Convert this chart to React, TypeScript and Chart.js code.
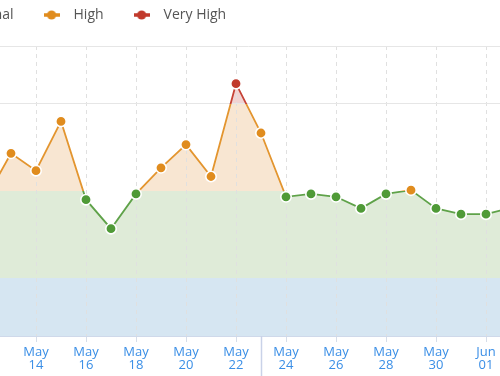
import { useEffect, useRef } from 'react';
import { Chart, registerables } from 'chart.js';

Chart.register(...registerables);

// ---- data ----
const dates = [
  'May 12', 'May 13', 'May 14', 'May 15', 'May 16', 'May 17', 'May 18', 'May 19',
  'May 20', 'May 21', 'May 22', 'May 23', 'May 24', 'May 25', 'May 26', 'May 27',
  'May 28', 'May 29', 'May 30', 'May 31', 'Jun 01', 'Jun 02',
];
const volatility = [
  4.75, 6.3, 5.7, 7.4, 4.7, 3.7, 4.9, 5.8,
  6.6, 5.5, 8.7, 7.0, 4.8, 4.9, 4.8, 4.4,
  4.9, 5.03, 4.4, 4.2, 4.2, 4.42,
];
const levelNames = ['Low', 'Normal', 'High', 'Very High'];
const levelThresholds = [0, 2, 5, 8, 10];
const markerDate = 'May 23';

// ---- styles ----
const pointColors = ['#3a8ee6', '#4f9a37', '#e08c1e', '#c13a2c'];
const lineColors = ['#3a8ee6', '#5fa249', '#e3952f', '#c64236'];
const fillColors = ['#d6e6f2', '#dfebd8', '#f8e6d2', '#f1d3d2'];
const FONT = "'Open Sans', 'Noto Sans', sans-serif";

const levelOf = (v: number) => (v >= 8 ? 3 : v >= 5 ? 2 : v >= 2 ? 1 : 0);

function makeIcon(color: string) {
  const c = document.createElement('canvas');
  c.width = 16;
  c.height = 10;
  const g = c.getContext('2d')!;
  g.strokeStyle = color;
  g.lineWidth = 3.5;
  g.beginPath();
  g.moveTo(0, 5);
  g.lineTo(16, 5);
  g.stroke();
  g.fillStyle = color;
  g.beginPath();
  g.arc(8, 5, 4.6, 0, Math.PI * 2);
  g.fill();
  return c;
}

function lineGradient(chart: any) {
  const { ctx, chartArea, scales } = chart;
  if (!chartArea || !scales || !scales.y) return lineColors[1];
  const top = chartArea.top;
  const bottom = chartArea.bottom;
  const g = ctx.createLinearGradient(0, top, 0, bottom);
  const f = (v: number) =>
    Math.min(1, Math.max(0, (scales.y.getPixelForValue(v) - top) / (bottom - top)));
  const f8 = f(8), f5 = f(5), f2 = f(2);
  g.addColorStop(0, lineColors[3]);
  g.addColorStop(f8, lineColors[3]);
  g.addColorStop(f8, lineColors[2]);
  g.addColorStop(f5, lineColors[2]);
  g.addColorStop(f5, lineColors[1]);
  g.addColorStop(f2, lineColors[1]);
  g.addColorStop(f2, lineColors[0]);
  g.addColorStop(1, lineColors[0]);
  return g;
}

const legendSpacer = {
  id: 'legendSpacer',
  beforeInit(chart: any) {
    const legend = chart.legend;
    if (!legend) return;
    const fit = legend.fit;
    legend.fit = function () {
      fit.call(legend);
      this.height += 14;
    };
  },
};

const markerLine = {
  id: 'markerLine',
  afterDraw(chart: any) {
    const { ctx, chartArea, scales } = chart;
    const idx = dates.indexOf(markerDate);
    const x = Math.round(scales.x.getPixelForValue(idx)) + 0.5;
    ctx.save();
    ctx.strokeStyle = '#c9d2e8';
    ctx.lineWidth = 1.5;
    ctx.beginPath();
    ctx.moveTo(x, chartArea.bottom);
    ctx.lineTo(x, chart.height);
    ctx.stroke();
    ctx.restore();
  },
};

const T = 'rgba(0,0,0,0)';

export default function App() {
  const ref = useRef<HTMLCanvasElement>(null);

  useEffect(() => {
    if (!ref.current) return;
    const icons = pointColors.map(makeIcon);
    const chart = new Chart(ref.current, {
      type: 'line',
      data: {
        labels: dates,
        datasets: [
          {
            label: 'Volatility',
            data: volatility,
            borderColor: (c: any) => lineGradient(c.chart),
            borderWidth: 1.8,
            tension: 0,
            pointRadius: 5.2,
            pointHoverRadius: 5.2,
            pointBackgroundColor: volatility.map((v) => pointColors[levelOf(v)]),
            pointBorderColor: '#ffffff',
            pointBorderWidth: 1.6,
            fill: { target: { value: levelThresholds[3] }, above: fillColors[3], below: T },
          },
          {
            label: 'high-fill',
            data: volatility,
            borderWidth: 0,
            borderColor: T,
            pointRadius: 0,
            pointHoverRadius: 0,
            fill: { target: { value: levelThresholds[2] }, above: fillColors[2], below: T },
          },
          {
            label: 'normal-fill',
            data: volatility,
            borderWidth: 0,
            borderColor: T,
            pointRadius: 0,
            pointHoverRadius: 0,
            fill: { target: { value: levelThresholds[1] }, above: fillColors[1], below: T },
          },
          {
            label: 'low-fill',
            data: volatility,
            borderWidth: 0,
            borderColor: T,
            pointRadius: 0,
            pointHoverRadius: 0,
            fill: { target: { value: levelThresholds[0] }, above: fillColors[0], below: T },
          },
        ],
      },
      options: {
        animation: false,
        responsive: false,
        events: [],
        layout: { padding: { left: 0, right: 10, top: 0, bottom: 0 } },
        plugins: {
          filler: { drawTime: 'beforeDraw' },
          tooltip: { enabled: false },
          legend: {
            display: true,
            position: 'top',
            align: 'start',
            labels: {
              usePointStyle: true,
              pointStyleWidth: 30,
              padding: 23,
              color: '#555555',
              font: { family: FONT, size: 14 },
              generateLabels: () =>
                levelNames.map((name, i) => ({
                  text: name,
                  fillStyle: pointColors[i],
                  strokeStyle: pointColors[i],
                  lineWidth: 0,
                  pointStyle: icons[i],
                  hidden: false,
                  fontColor: '#555555',
                })),
            },
          },
        },
        scales: {
          x: {
            type: 'category',
            afterFit: (s: any) => {
              s.height = 40;
            },
            grid: {
              color: (c: any) => (c.index % 2 === 0 ? '#e0e0e0' : T),
              tickColor: (c: any) => (c.index % 2 === 0 ? '#d6dde8' : T),
              tickLength: 6,
              lineWidth: 1,
            },
            border: { display: true, color: '#cfd9ea', width: 1, dash: [4, 4] },
            ticks: {
              autoSkip: false,
              maxRotation: 0,
              minRotation: 0,
              padding: 4,
              color: '#3a8ee6',
              font: { family: FONT, size: 13, lineHeight: 1.0 },
              callback: (_v: any, i: number) =>
                i % 2 === 0 && i < dates.length - 1 ? dates[i].split(' ') : '',
            },
          },
          y: {
            min: 0,
            max: 10,
            afterFit: (s: any) => {
              s.width = 168;
            },
            afterBuildTicks: (s: any) => {
              s.ticks = levelThresholds.map((v) => ({ value: v }));
            },
            grid: {
              drawTicks: false,
              color: (c: any) =>
                c.tick && (c.tick.value === 8 || c.tick.value === 10) ? '#e6e6e6' : T,
            },
            border: { display: false },
            ticks: { display: false },
          },
        },
      },
      plugins: [legendSpacer, markerLine],
    } as any);
    return () => chart.destroy();
  }, []);

  return (
    <div
      style={{
        position: 'fixed',
        left: 0,
        top: 0,
        width: 500,
        height: 376,
        overflow: 'hidden',
        background: '#ffffff',
      }}
    >
      <canvas
        ref={ref}
        width={703}
        height={391}
        style={{ position: 'absolute', left: -182, top: -15, width: 703, height: 391 }}
      />
    </div>
  );
}
